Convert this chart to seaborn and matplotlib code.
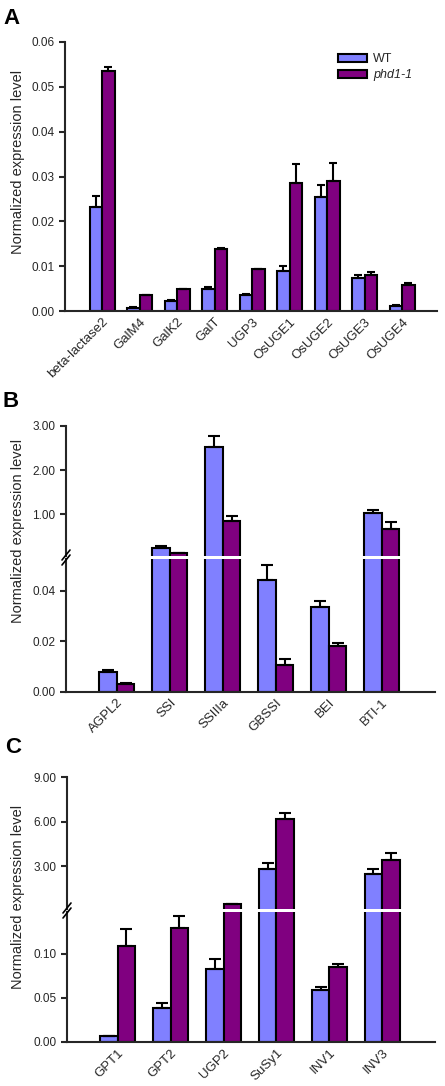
import matplotlib.pyplot as plt
from matplotlib.lines import Line2D
from matplotlib.patches import Patch
import pandas as pd
import seaborn as sns

# Painel A
genes_a = ['beta-lactase2', 'GalM4', 'GalK2', 'GalT', 'UGP3', 'OsUGE1', 'OsUGE2', 'OsUGE3', 'OsUGE4']
wt_a = [0.0231, 0.0007, 0.0022, 0.0050, 0.0036, 0.0089, 0.0254, 0.0074, 0.0012]
wt_a_err = [0.0026, 0.0001, 0.0002, 0.0003, 0.0001, 0.0012, 0.0027, 0.0007, 0.0001]
mut_a = [0.0535, 0.0035, 0.0048, 0.0139, 0.0093, 0.0286, 0.0290, 0.0080, 0.0058]
mut_a_err = [0.0010, 0.0001, 0.0001, 0.0001, 0.0001, 0.0042, 0.0041, 0.0008, 0.0005]

# Painel B
genes_b = ['AGPL2', 'SSI', 'SSIIIa', 'GBSSI', 'BEI', 'BTI-1']
wt_b = [0.0077, 0.24, 2.52, 0.0442, 0.0335, 1.03]
wt_b_err = [0.0009, 0.04, 0.25, 0.0061, 0.0026, 0.07]
mut_b = [0.0032, 0.12, 0.85, 0.0105, 0.0182, 0.675]
mut_b_err = [0.0002, 0.01, 0.12, 0.0025, 0.0011, 0.145]

# Painel C
genes_c = ['GPT1', 'GPT2', 'UGP2', 'SuSy1', 'INV1', 'INV3']
wt_c = [0.007, 0.038, 0.082, 2.86, 0.059, 2.48]
wt_c_err = [0.0, 0.006, 0.012, 0.36, 0.003, 0.38]
mut_c = [0.109, 0.129, 0.48, 6.18, 0.085, 3.43]
mut_c_err = [0.019, 0.014, 0.02, 0.38, 0.0036, 0.44]

cores = {'WT': '#8080ff', 'phd1-1': '#800080'}

sns.set_style('ticks')
plt.rcParams['font.family'] = ['Liberation Sans', 'DejaVu Sans']

W, H = 445, 1086
fig = plt.figure(figsize=(W / 100, H / 100), dpi=100)


def eixo(esq, topo, dir, base):
    return fig.add_axes([esq / W, 1 - base / H, (dir - esq) / W, (base - topo) / H])


def barras(ax, genes, wt, wt_err, mut, mut_err, largura, capsize, minimo=None, legenda=False):
    df = pd.DataFrame({
        'gene': genes * 2,
        'linha': ['WT'] * len(genes) + ['phd1-1'] * len(genes),
        'valor': wt + mut,
    })
    sns.barplot(data=df, x='gene', y='valor', hue='linha', palette=cores, errorbar=None,
                saturation=1, width=largura, edgecolor='black', linewidth=1.5, ax=ax,
                legend=legenda)
    for cont, vals, errs in zip(ax.containers, [wt, mut], [wt_err, mut_err]):
        xs, ys, es = [], [], []
        for p, v, e in zip(cont.patches, vals, errs):
            if minimo is not None and v <= minimo:
                p.set_visible(False)
                continue
            xs.append(p.get_x() + p.get_width() / 2)
            ys.append(v)
            es.append(e)
        ax.errorbar(xs, ys, yerr=[[0] * len(es), es], fmt='none', ecolor='black',
                    elinewidth=1.5, capsize=capsize, capthick=1.5, zorder=5)
    ax.set_xlabel('')
    ax.set_ylabel('')
    sns.despine(ax=ax)
    ax.tick_params(axis='y', labelsize=8.5, width=1.5, length=4, direction='out')
    ax.tick_params(axis='x', length=0, labelsize=9.5)
    for s in ['left', 'bottom']:
        ax.spines[s].set_linewidth(1.5)


def rotular_x(ax):
    ax.set_xticks(ax.get_xticks())
    ax.set_xticklabels([t.get_text() for t in ax.get_xticklabels()], rotation=45,
                       ha='right', rotation_mode='anchor')


def quebra(x, y):
    for dy in (-2.5, 2.5):
        fig.add_artist(Line2D([(x - 4) / W, (x + 4) / W],
                              [1 - (y + dy + 5) / H, 1 - (y + dy - 5) / H],
                              color='black', lw=1.2, transform=fig.transFigure))


# ---- A ----
ax_a = eixo(65, 42, 437, 311)
barras(ax_a, genes_a, wt_a, wt_a_err, mut_a, mut_a_err, 0.67, 3.2, legenda=True)
ax_a.set_xlim(-0.99, 8.93)
ax_a.set_ylim(0, 0.06)
ax_a.set_yticks([0, 0.01, 0.02, 0.03, 0.04, 0.05, 0.06])
ax_a.set_yticklabels(['%.2f' % v for v in ax_a.get_yticks()])
rotular_x(ax_a)
handles = [Patch(facecolor=cores[k], edgecolor='black', linewidth=1.5) for k in cores]
leg = ax_a.legend(handles, list(cores), loc='upper left', bbox_to_anchor=(338 / W, 1 - 53 / H),
                  bbox_transform=fig.transFigure, frameon=False, fontsize=9, borderpad=0,
                  borderaxespad=0, handlelength=2.3, handleheight=0.6, labelspacing=0.35,
                  handletextpad=0.5)
leg.get_texts()[1].set_style('italic')
fig.text(18 / W, 1 - 162 / H, 'Normalized expression level', rotation=90, ha='center',
         va='center', fontsize=10.5)

# ---- B ----
ax_b1 = eixo(66, 426, 435, 556)
ax_b2 = eixo(66, 559, 435, 692)
lim_b = 0.0525
barras(ax_b1, genes_b, wt_b, wt_b_err, mut_b, mut_b_err, 0.66, 4, minimo=lim_b)
barras(ax_b2, genes_b, wt_b, wt_b_err, mut_b, mut_b_err, 0.66, 4)
for ax in (ax_b1, ax_b2):
    ax.set_xlim(-0.96, 6.0)
ax_b1.set_ylim(lim_b, 3.0)
ax_b1.set_yticks([1, 2, 3])
ax_b1.set_yticklabels(['1.00', '2.00', '3.00'])
ax_b1.spines['bottom'].set_visible(False)
ax_b1.set_xticks([])
ax_b2.set_ylim(0, lim_b)
ax_b2.set_yticks([0, 0.02, 0.04])
ax_b2.set_yticklabels(['0.00', '0.02', '0.04'])
rotular_x(ax_b2)
quebra(66, 557.5)
fig.text(18 / W, 1 - 531 / H, 'Normalized expression level', rotation=90, ha='center',
         va='center', fontsize=10.5)

# ---- C ----
ax_c1 = eixo(67, 777, 435, 909)
ax_c2 = eixo(67, 912, 435, 1042)
lim_c = 0.147
barras(ax_c1, genes_c, wt_c, wt_c_err, mut_c, mut_c_err, 0.66, 4, minimo=lim_c)
barras(ax_c2, genes_c, wt_c, wt_c_err, mut_c, mut_c_err, 0.66, 4)
for ax in (ax_c1, ax_c2):
    ax.set_xlim(-0.96, 6.0)
ax_c1.set_ylim(lim_c, 9.0)
ax_c1.set_yticks([3, 6, 9])
ax_c1.set_yticklabels(['3.00', '6.00', '9.00'])
ax_c1.spines['bottom'].set_visible(False)
ax_c1.set_xticks([])
ax_c2.set_ylim(0, lim_c)
ax_c2.set_yticks([0, 0.05, 0.10])
ax_c2.set_yticklabels(['0.00', '0.05', '0.10'])
rotular_x(ax_c2)
quebra(67, 910.5)
fig.text(18 / W, 1 - 897 / H, 'Normalized expression level', rotation=90, ha='center',
         va='center', fontsize=10.5)

# letras dos paineis
for letra, x, y in [('A', 3, 8), ('B', 3, 391), ('C', 5, 737)]:
    fig.text(x / W, 1 - y / H, letra, fontsize=16, fontweight='bold', va='top', ha='left',
             color='black')

fig.savefig('out.png', dpi=100)
